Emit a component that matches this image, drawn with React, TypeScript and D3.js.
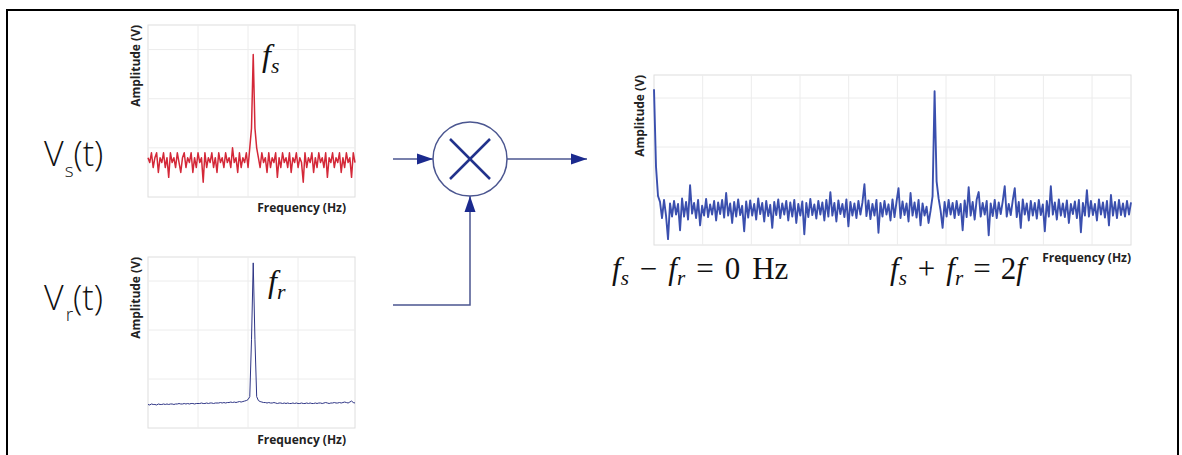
import * as d3 from 'd3'

// small plots in tenths / hundredths of one grid step
const RED_SIGNAL = [
  8, 7, 9, 6, 8, 9, 5, 8, 7, 9,
  6, 8, 4, 9, 7, 8, 6, 9, 7, 5,
  8, 9, 6, 8, 7, 9, 5, 8, 6, 9,
  7, 8, 3, 9, 6, 8, 7, 9, 6, 8,
  5, 9, 7, 8, 6, 9, 7, 8, 6, 10,
  7, 8, 5, 9, 6, 8, 7, 9, 6, 10,
  14, 29, 14, 10, 8, 6, 9, 7, 8, 5,
  9, 6, 8, 7, 9, 4, 8, 6, 9, 7,
  8, 6, 9, 5, 8, 7, 9, 6, 8, 7,
  3, 9, 6, 8, 7, 9, 5, 8, 6, 9,
  7, 8, 6, 9, 4, 8, 7, 9, 6, 8,
  7, 9, 5, 8, 6, 9, 7, 8, 4, 9,
  7,
]

const BLUE_REFERENCE = [
  48, 47, 49, 48, 48, 47, 49, 48, 48, 49,
  48, 49, 48, 49, 49, 48, 49, 49, 50, 49,
  49, 50, 49, 50, 49, 50, 50, 49, 50, 50,
  50, 51, 50, 50, 51, 50, 51, 51, 50, 51,
  51, 51, 52, 51, 52, 51, 52, 52, 53, 52,
  53, 52, 53, 54, 53, 54, 55, 56, 58, 64,
  180, 337, 180, 64, 56, 54, 53, 52, 52, 51,
  52, 51, 51, 52, 51, 50, 51, 51, 50, 51,
  50, 51, 50, 50, 51, 50, 51, 50, 50, 51,
  50, 50, 51, 50, 51, 50, 50, 51, 50, 51,
  51, 50, 51, 52, 51, 50, 51, 51, 52, 51,
  51, 52, 51, 52, 53, 52, 51, 53, 55, 52,
  51,
]

const MIXED_OUTPUT = [
  318, 160, 100, 88, 55, 92, 60, 12, 85, 58,
  90, 62, 84, 30, 95, 58, 88, 52, 122, 64,
  86, 55, 92, 40, 80, 60, 94, 57, 83, 62,
  90, 50, 87, 63, 92, 56, 106, 60, 85, 45,
  88, 58, 93, 61, 80, 28, 89, 56, 91, 60,
  84, 52, 95, 63, 86, 48, 90, 59, 82, 35,
  88, 61, 93, 55, 85, 62, 90, 50, 87, 58,
  92, 45, 84, 60, 89, 22, 86, 57, 94, 61,
  83, 54, 90, 62, 87, 50, 92, 58, 108, 60,
  86, 48, 91, 63, 84, 57, 93, 38, 88, 60,
  85, 55, 90, 62, 87, 124, 59, 91, 53, 84,
  60, 92, 25, 86, 58, 90, 62, 83, 50, 93,
  57, 88, 116, 55, 89, 61, 85, 48, 106, 60,
  87, 56, 92, 40, 85, 60, 78, 45, 70, 100,
  314, 130, 95, 70, 35, 88, 58, 92, 62, 86,
  55, 90, 61, 84, 30, 91, 57, 118, 60, 88,
  52, 93, 108, 58, 86, 62, 90, 20, 85, 59,
  92, 55, 87, 63, 89, 120, 58, 84, 61, 91,
  116, 57, 88, 35, 93, 62, 85, 50, 90, 60,
  86, 54, 92, 61, 83, 28, 90, 58, 120, 62,
  87, 52, 93, 60, 85, 57, 91, 45, 84, 63,
  89, 55, 92, 26, 86, 60, 112, 58, 90, 61,
  84, 50, 93, 62, 87, 56, 90, 40, 102, 60,
  88, 55, 92, 61, 85, 58, 90, 62, 87,
]

const GRID_X_SMALL = [1, 2, 3]
const GRID_X_WIDE = [1, 2, 3, 4, 5, 6, 7, 8, 9]
const GRID_Y = [1, 2, 3]

const LABEL_FONT = '"Open Sans", "Liberation Sans", sans-serif'
const MATH_FONT = '"Liberation Serif", "DejaVu Serif", serif'
const WIRE = '#4b5690'
const HEAD = '#1b2a8e'

type SpectrumProps = {
  left: number
  top: number
  width: number
  height: number
  xMax: number
  yMax: number
  unit: number
  values: number[]
  gridX: number[]
  color: string
  lineWidth: number
  ampX: number
  freqX: number
  freqY: number
}

const Spectrum = (p: SpectrumProps) => {
  const xGrid = d3.scaleLinear().domain([0, p.xMax]).range([p.left, p.left + p.width])
  const xIdx = d3.scaleLinear().domain([0, p.values.length - 1]).range([p.left, p.left + p.width])
  const y = d3.scaleLinear().domain([0, p.yMax]).range([p.top + p.height, p.top])
  const line = d3
    .line<number>()
    .x((d, i) => xIdx(i))
    .y((d) => y(d / p.unit))

  return (
    <g>
      <rect x={p.left} y={p.top} width={p.width} height={p.height} fill="white" stroke="#dedede" />
      {p.gridX.map((g) => (
        <line key={'x' + g} x1={xGrid(g)} x2={xGrid(g)} y1={p.top} y2={p.top + p.height} stroke="#ececec" />
      ))}
      {GRID_Y.map((g) => (
        <line key={'y' + g} x1={p.left} x2={p.left + p.width} y1={y(g)} y2={y(g)} stroke="#ececec" />
      ))}
      <path d={line(p.values) || ''} fill="none" stroke={p.color} strokeWidth={p.lineWidth} strokeLinejoin="round" />
      <text
        transform={`translate(${p.ampX},${p.top}) rotate(-90)`}
        textAnchor="end"
        dy="0.35em"
        style={{ fontFamily: LABEL_FONT, fontWeight: 700, fontSize: 12, fill: '#222' }}
      >
        Amplitude (V)
      </text>
      <text
        x={p.freqX}
        y={p.freqY}
        textAnchor="end"
        style={{ fontFamily: LABEL_FONT, fontWeight: 700, fontSize: 12, fill: '#222' }}
      >
        Frequency (Hz)
      </text>
    </g>
  )
}

const arrowHead = (tipX: number, tipY: number, dir: 'right' | 'up') => {
  const p = d3.path()
  if (dir === 'right') {
    p.moveTo(tipX, tipY)
    p.lineTo(tipX - 16, tipY - 5.5)
    p.lineTo(tipX - 16, tipY + 5.5)
  } else {
    p.moveTo(tipX, tipY)
    p.lineTo(tipX - 5.5, tipY + 16)
    p.lineTo(tipX + 5.5, tipY + 16)
  }
  p.closePath()
  return p.toString()
}

const Sub = ({ children }: { children: string }) => (
  <tspan fontSize="0.68em" dy="0.3em" fontStyle="italic">{children}</tspan>
)

export default function App() {
  const cx = 470
  const cy = 159
  const r = 37

  return (
    <div style={{ position: 'fixed', left: 0, top: 0 }}>
      <svg width={1182} height={455} style={{ display: 'block', background: 'white' }}>
        <rect x={7} y={10} width={1171} height={470} fill="none" stroke="#000" strokeWidth={2} />

        {/* input signal spectrum */}
        <Spectrum
          left={148} top={25} width={207} height={172}
          xMax={4.14} yMax={3.5} unit={10}
          values={RED_SIGNAL} gridX={GRID_X_SMALL}
          color="#d42838" lineWidth={1.5}
          ampX={136} freqX={346} freqY={212}
        />
        {/* reference spectrum */}
        <Spectrum
          left={148} top={257} width={207} height={171}
          xMax={4.14} yMax={3.49} unit={100}
          values={BLUE_REFERENCE} gridX={GRID_X_SMALL}
          color="#2e3585" lineWidth={1}
          ampX={136} freqX={346} freqY={444}
        />
        {/* mixer output */}
        <Spectrum
          left={654} top={75} width={477} height={170}
          xMax={9.8} yMax={3.47} unit={100}
          values={MIXED_OUTPUT} gridX={GRID_X_WIDE}
          color="#3a4fae" lineWidth={1.9}
          ampX={640} freqX={1131} freqY={262}
        />

        {/* V labels */}
        <text x={44} y={166} style={{ fontFamily: LABEL_FONT, fontWeight: 300, fontSize: 34, fill: '#111' }}>
          V<tspan fontSize={19} dy={11} dx={1}>s</tspan><tspan dy={-11}>(t)</tspan>
        </text>
        <text x={44} y={310} style={{ fontFamily: LABEL_FONT, fontWeight: 300, fontSize: 34, fill: '#111' }}>
          V<tspan fontSize={19} dy={11} dx={2}>r</tspan><tspan dy={-11}>(t)</tspan>
        </text>

        {/* peak labels */}
        <text x={262} y={66} style={{ fontFamily: MATH_FONT, fontSize: 32, fontStyle: 'italic', fill: '#111' }}>
          f<Sub>s</Sub>
        </text>
        <text x={268} y={292} style={{ fontFamily: MATH_FONT, fontSize: 32, fontStyle: 'italic', fill: '#111' }}>
          f<Sub>r</Sub>
        </text>

        {/* mixer */}
        <line x1={393} x2={cx - r} y1={cy} y2={cy} stroke={WIRE} strokeWidth={1.5} />
        <path d={arrowHead(cx - r, cy, 'right')} fill={HEAD} />
        <line x1={cx + r} x2={587} y1={cy} y2={cy} stroke={WIRE} strokeWidth={1.5} />
        <path d={arrowHead(587, cy, 'right')} fill={HEAD} />
        <polyline points={`393,305 ${cx},305 ${cx},${cy + r}`} fill="none" stroke={WIRE} strokeWidth={1.5} />
        <path d={arrowHead(cx, cy + r, 'up')} fill={HEAD} />
        <circle cx={cx} cy={cy} r={r} fill="white" stroke={WIRE} strokeWidth={1.5} />
        <line x1={cx - 20} y1={cy - 20} x2={cx + 20} y2={cy + 20} stroke="#22328c" strokeWidth={2.5} />
        <line x1={cx + 20} y1={cy - 20} x2={cx - 20} y2={cy + 20} stroke="#22328c" strokeWidth={2.5} />

        {/* output formulas */}
        <text x={612} y={279} style={{ fontFamily: MATH_FONT, fontSize: 31, fill: '#111' }}>
          <tspan fontStyle="italic">f</tspan>
          <Sub>s</Sub>
          <tspan dy="-0.2em" dx={11}>−</tspan>
          <tspan fontStyle="italic" dx={11}>f</tspan>
          <Sub>r</Sub>
          <tspan dy="-0.2em" dx={11}>=</tspan>
          <tspan dx={11}>0</tspan>
          <tspan dx={12}>Hz</tspan>
        </text>
        <text x={890} y={279} style={{ fontFamily: MATH_FONT, fontSize: 31, fill: '#111' }}>
          <tspan fontStyle="italic">f</tspan>
          <Sub>s</Sub>
          <tspan dy="-0.2em" dx={11}>+</tspan>
          <tspan fontStyle="italic" dx={11}>f</tspan>
          <Sub>r</Sub>
          <tspan dy="-0.2em" dx={10}>=</tspan>
          <tspan dx={10}>2</tspan>
          <tspan fontStyle="italic">f</tspan>
        </text>
      </svg>
    </div>
  )
}
